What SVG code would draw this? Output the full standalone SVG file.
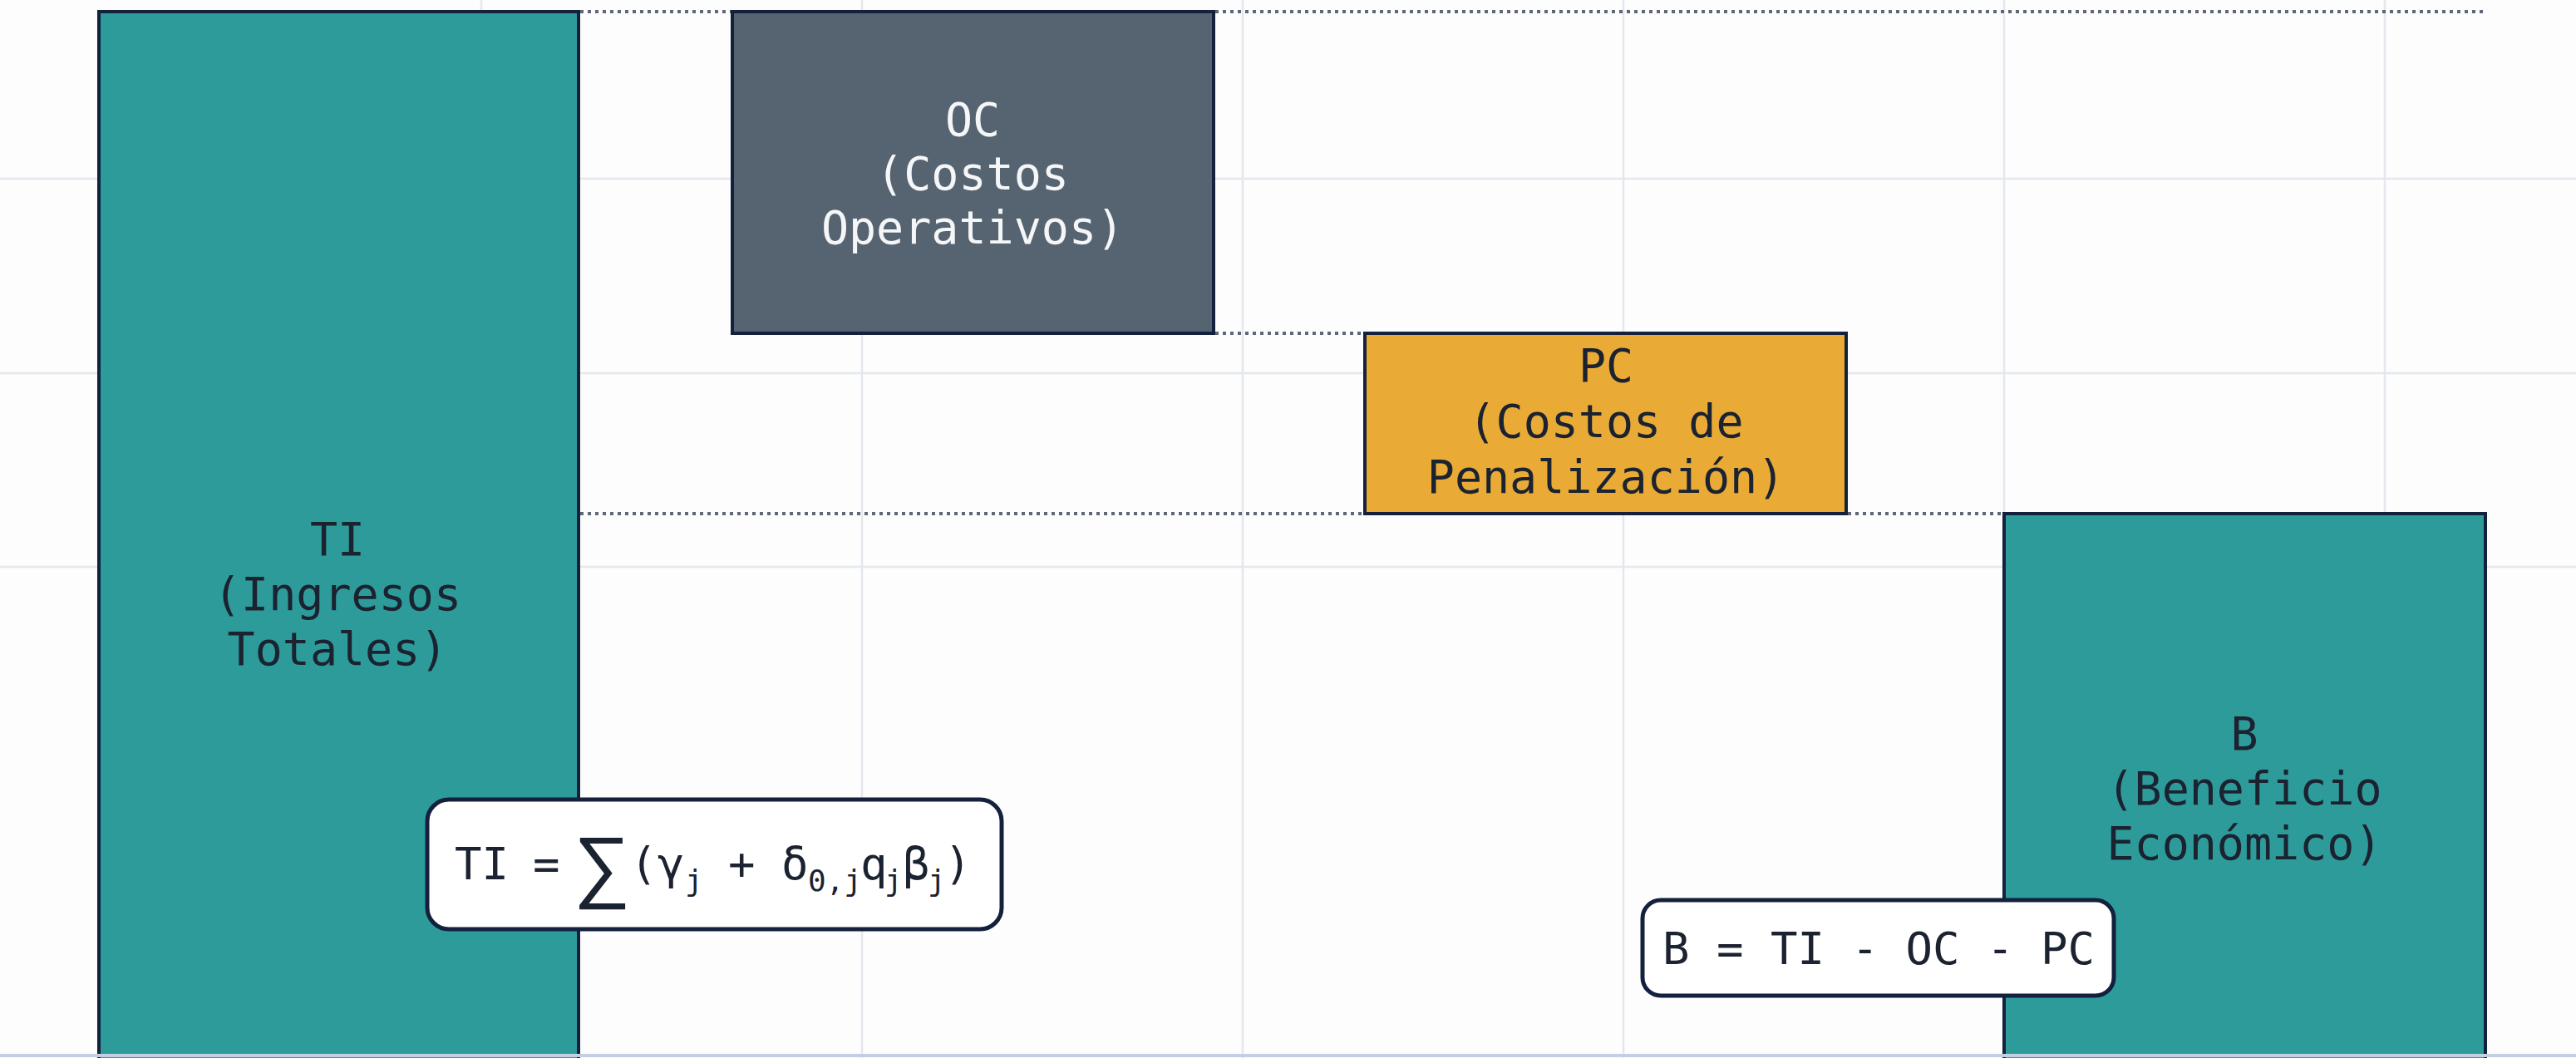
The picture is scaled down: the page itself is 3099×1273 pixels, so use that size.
<svg xmlns="http://www.w3.org/2000/svg" width="3099" height="1273" viewBox="0 0 3099 1273">
<style>
.grid{stroke:#e4e8ee;stroke-width:2.5;fill:none}
.bar{stroke:#13213d;stroke-width:4}
.teal{fill:#2e9b9b}
.slate{fill:#566371}
.amber{fill:#e9ab36}
.dot{stroke:#5d6778;stroke-width:4;stroke-dasharray:4 5;fill:none}
.lbl{font-family:"DejaVu Sans Mono","Liberation Mono",monospace;font-size:55px;text-anchor:middle;fill:#1b2230}
.lbl.w{fill:#f4f6f8}
.fbox{fill:#ffffff;stroke:#13213d;stroke-width:5}
.f{font-family:"DejaVu Sans Mono","Liberation Mono",monospace;font-size:54px;fill:#1b2230}
.sub{font-size:36px}
.sig{font-family:"Liberation Sans","DejaVu Sans",sans-serif;font-size:96px}
</style>
<rect width="3099" height="1273" fill="#fdfdfd"/>
<g id="grid">
<line class="grid" x1="579" y1="0" x2="579" y2="1273"/>
<line class="grid" x1="1037" y1="0" x2="1037" y2="1273"/>
<line class="grid" x1="1495" y1="0" x2="1495" y2="1273"/>
<line class="grid" x1="1953" y1="0" x2="1953" y2="1273"/>
<line class="grid" x1="2411" y1="0" x2="2411" y2="1273"/>
<line class="grid" x1="2869" y1="0" x2="2869" y2="1273"/>
<line class="grid" x1="0" y1="215" x2="3099" y2="215"/>
<line class="grid" x1="0" y1="449" x2="3099" y2="449"/>
<line class="grid" x1="0" y1="682" x2="3099" y2="682"/>
</g>
<g id="connectors">
<line class="dot" x1="698" y1="14" x2="879" y2="14"/>
<line class="dot" x1="1462" y1="14" x2="2990" y2="14"/>
<line class="dot" x1="1462" y1="401" x2="1640" y2="401"/>
<line class="dot" x1="698" y1="618" x2="1640" y2="618"/>
<line class="dot" x1="2223" y1="618" x2="2409" y2="618"/>
</g>
<g id="TI">
<rect class="bar teal" x="119" y="14" width="577" height="1290"/>
<text class="lbl"><tspan x="406" y="668">TI</tspan><tspan x="406" y="734">(Ingresos</tspan><tspan x="406" y="800">Totales)</tspan></text>
</g>
<g id="OC">
<rect class="bar slate" x="881" y="14" width="579" height="387"/>
<text class="lbl w"><tspan x="1170" y="163">OC</tspan><tspan x="1170" y="228">(Costos</tspan><tspan x="1170" y="293">Operativos)</tspan></text>
</g>
<g id="PC">
<rect class="bar amber" x="1642" y="401" width="579" height="217"/>
<text class="lbl"><tspan x="1932" y="459">PC</tspan><tspan x="1932" y="526">(Costos de</tspan><tspan x="1932" y="593">Penalización)</tspan></text>
</g>
<g id="B">
<rect class="bar teal" x="2411" y="618" width="579" height="690"/>
<text class="lbl"><tspan x="2700" y="902">B</tspan><tspan x="2700" y="968">(Beneficio</tspan><tspan x="2700" y="1034">Económico)</tspan></text>
</g>
<line x1="0" y1="1270" x2="3099" y2="1270" stroke="#c5cfe2" stroke-width="4"/>
<g id="TI-formula">
<rect class="fbox" x="514" y="962" width="691" height="156" rx="26"/>
<text class="f" y="1058"><tspan x="547">TI</tspan><tspan x="641">=</tspan><tspan class="sig" x="690" y="1074">∑</tspan><tspan x="758" y="1058">(</tspan><tspan x="791">γ</tspan><tspan class="sub" x="824" y="1072">j</tspan><tspan x="876" y="1058">+</tspan><tspan x="940">δ</tspan><tspan class="sub" x="972" y="1072">0,j</tspan><tspan x="1035" y="1058">q</tspan><tspan class="sub" x="1064" y="1072">j</tspan><tspan x="1086" y="1058">β</tspan><tspan class="sub" x="1116" y="1072">j</tspan><tspan x="1136" y="1058">)</tspan></text>
</g>
<g id="B-formula">
<rect class="fbox" x="1976" y="1083" width="567" height="115" rx="22"/>
<text class="f" x="2260" y="1160" text-anchor="middle" font-size="52">B = TI - OC - PC</text>
</g>
</svg>
